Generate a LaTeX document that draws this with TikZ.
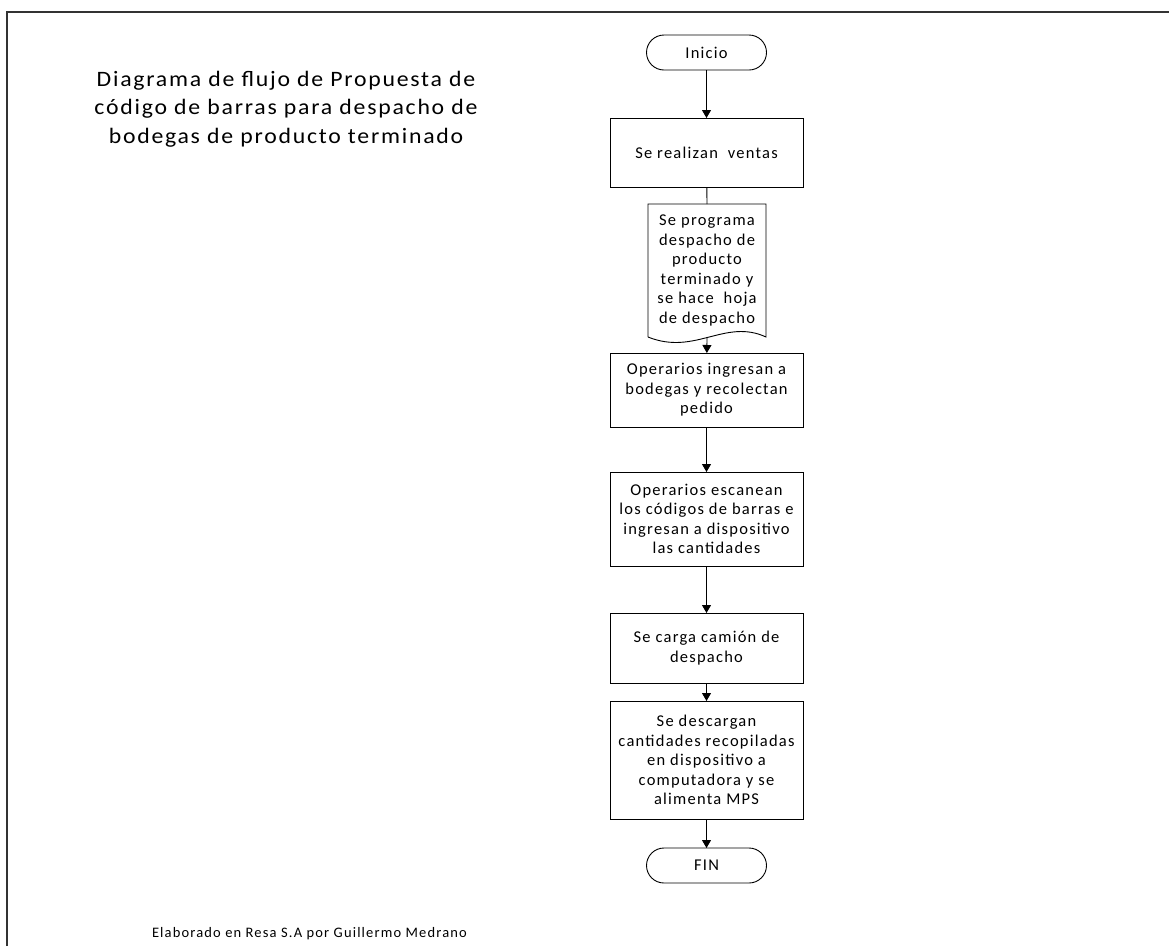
\documentclass[tikz,border=0pt]{standalone}
\usepackage{fontspec}
\setmainfont{Carlito}
\newfontfamily\titlefont[FakeStretch=1.08,LetterSpace=8]{Carlito}
\newfontfamily\boxfont[LetterSpace=7.5]{Carlito}
\newfontfamily\creditfont[LetterSpace=8]{Carlito}
\usetikzlibrary{arrows.meta,shapes.misc}

\begin{document}
\begin{tikzpicture}[x=1pt,y=-1pt,
  every node/.style={inner sep=0pt, outer sep=0pt},
  boxtext/.style={font=\boxfont\fontsize{16.5}{19.5}\selectfont, align=center},
  process/.style={boxtext, draw, line width=0.9pt, minimum width=193pt},
  terminal/.style={boxtext, draw, rounded rectangle, line width=0.9pt,
                   minimum width=120pt, minimum height=35pt},
  flow/.style={line width=0.9pt, -{Triangle[length=8pt,width=9pt]}},
  plain/.style={line width=0.9pt},
  frame/.style={line width=1.5pt, black!80}]

\useasboundingbox (0,0) rectangle (1169,946);

% page frame (top and left edges)
\draw[frame] (7,946) -- (7,12) -- (1169,12);

% title and credit
\node[font=\titlefont\fontsize{22}{28.3}\selectfont, align=center] (title) at (286,109)
  {Diagrama de flujo de Propuesta de\\código de barras para despacho de\\bodegas de producto terminado};
\node[font=\creditfont\fontsize{14.5}{17}\selectfont, anchor=base west] (credit) at (152,937)
  {Elaborado en Resa S.A por Guillermo Medrano};

% flow nodes
\node[terminal] (inicio) at (706.5,52.5) {Inicio};
\node[process, minimum height=69pt] (ventas) at (706.5,152.5) {Se realizan\ \ ventas};
\node[boxtext, minimum width=118pt, minimum height=133pt] (doc) at (707,270.5)
  {Se programa\\despacho de\\producto\\terminado y\\se hace\ \ hoja\\de despacho};
\draw[plain] (doc.south west) -- (doc.north west) -- (doc.north east) -- (doc.south east)
  .. controls +(-41,-19) and +(47,19) .. (doc.south west);
\coordinate (docout) at (707,337);
\node[process, minimum height=74pt] (recolectan) at (706.5,390)
  {Operarios ingresan a\\bodegas y recolectan\\pedido};
\node[process, minimum height=94pt] (escanean) at (706.5,519)
  {Operarios escanean\\los códigos de barras e\\ingresan a dispositivo\\las cantidades};
\node[process, minimum height=70pt] (carga) at (706.5,648)
  {Se carga camión de\\despacho};
\node[process, minimum height=118pt] (descargan) at (706.5,760)
  {Se descargan\\cantidades recopiladas\\en dispositivo a\\computadora y se\\alimenta MPS};
\node[terminal] (fin) at (706.5,865.5) {FIN};

% connectors
\draw[flow] (inicio) -- (ventas);
\draw[plain] (ventas) -- (doc.north);
\draw[flow] (docout) -- (recolectan);
\draw[flow] (recolectan) -- (escanean);
\draw[flow] (escanean) -- (carga);
\draw[flow] (carga) -- (descargan);
\draw[flow] (descargan) -- (fin);
\end{tikzpicture}
\end{document}
